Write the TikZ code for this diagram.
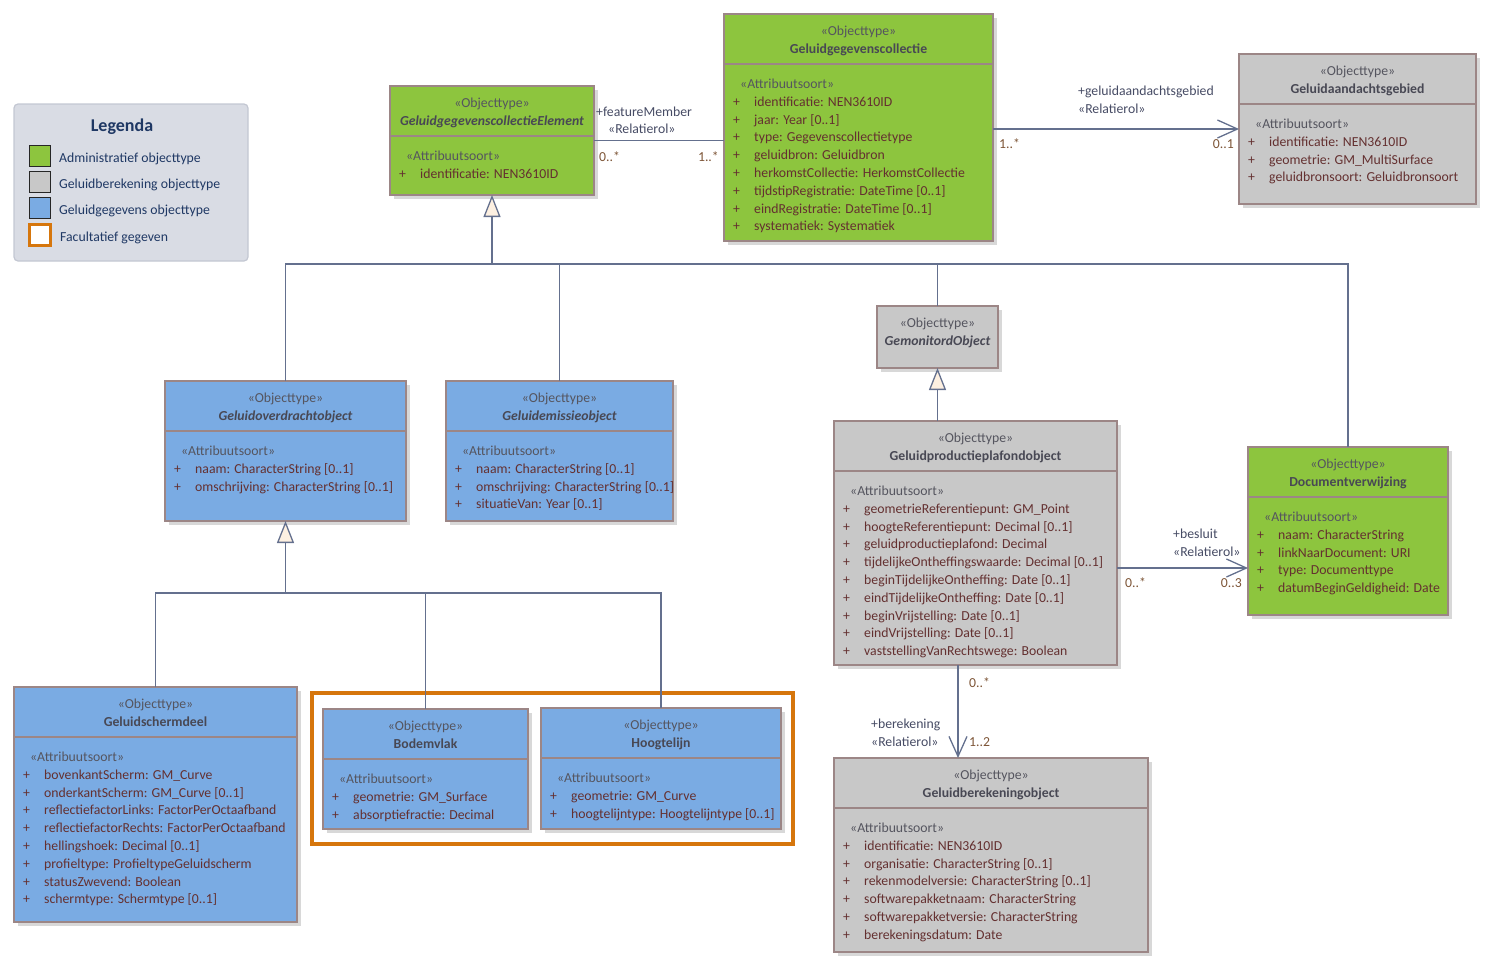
\documentclass[tikz,border=0pt]{standalone}
\usepackage{fontspec}
\setmainfont{Carlito}
\usetikzlibrary{arrows.meta,positioning,fit,calc}

\definecolor{admgreen}{RGB}{141,197,62}
\definecolor{calcgray}{RGB}{200,200,200}
\definecolor{datablue}{RGB}{122,171,227}
\definecolor{boxborder}{RGB}{156,134,134}
\definecolor{shadowc}{RGB}{216,216,216}
\definecolor{stereotext}{RGB}{85,85,95}
\definecolor{nametext}{RGB}{72,72,84}
\definecolor{attrtext}{RGB}{100,48,48}
\definecolor{roletext}{RGB}{70,75,100}
\definecolor{multtext}{RGB}{125,85,55}
\definecolor{linecol}{RGB}{100,112,142}
\definecolor{trifill}{RGB}{253,240,225}
\definecolor{optorange}{RGB}{214,118,12}
\definecolor{legendbg}{RGB}{217,220,228}
\definecolor{legendline}{RGB}{195,199,210}
\definecolor{legendtext}{RGB}{31,56,100}

% class box: #1 name, #2 fill, #3-#6 corners, #7 class name, #8 attributes, #9 extra style
\newcommand{\umlclass}[9]{%
  \fill[shadowc] (#3+4,#4+4) rectangle (#5+4,#6+4);
  \node[classbox,#9,fill=#2,fit={(#3,#4)(#5,#6)}] (#1) {};
  \draw[classbox,#9] (#3,#4+50) -- (#5,#4+50);
  \node[stereo] (#1-st) at ($(#1.north)+(0,21.5)$) {«Objecttype»};
  \node[classname] (#1-nm) at ($(#1.north)+(0,39)$) {#7};
  \node[stereo,anchor=base west] (#1-as) at (#3+16,#4+74.5) {«Attribuutsoort»};
  \foreach \txt [count=\i] in {#8} {
    \node[attr] (#1-p\i) at (#3+9,#4+74.5+17.8*\i) {+};
    \node[attr] (#1-a\i) at (#3+30,#4+74.5+17.8*\i) {\txt};
  }%
}

\begin{document}
\begin{tikzpicture}[x=1pt,y=-1pt,font=\fontsize{13.75}{17}\selectfont]
\tikzset{
  classbox/.style={draw=boxborder,line width=2.4pt,inner sep=0pt,outer sep=0pt},
  thinbox/.style={line width=1.3pt},
  stereo/.style={inner sep=0pt,anchor=base,text=stereotext},
  classname/.style={inner sep=0pt,anchor=base,text=nametext,font=\fontsize{13.75}{17}\selectfont\bfseries},
  attr/.style={inner sep=0pt,anchor=base west,text=attrtext},
  rolelabel/.style={inner sep=0pt,anchor=base west,text=roletext},
  multlabel/.style={inner sep=0pt,anchor=base west,text=multtext},
  connector/.style={draw=linecol,line width=1.3pt},
  navigable/.style={connector,-{Straight Barb[length=20pt,width=18pt]}},
  generalize/.style={connector,-{Triangle[length=22pt,width=17pt,fill=trifill]}},
  swatch/.style={draw=black!85,line width=1.3pt,minimum size=21pt,inner sep=0pt},
  legendlabel/.style={inner sep=0pt,anchor=base west,text=legendtext}
}
\useasboundingbox (0,0) rectangle (1495,967);

% legend
\node[draw=legendline,fill=legendbg,line width=1.2pt,rounded corners=4pt,inner sep=0pt,fit={(14,104)(248,261)}] (legend) {};
\node[inner sep=0pt,anchor=base,text=legendtext,font=\fontsize{18}{20}\selectfont\bfseries] (legend-title) at (122,131) {Legenda};
\node[swatch,fill=admgreen] (sw-adm) at (40,156) {};
\node[swatch,fill=calcgray] (sw-calc) at (40,182) {};
\node[swatch,fill=datablue] (sw-data) at (40,208) {};
\node[swatch,draw=optorange,line width=2.6pt,fill=white] (sw-opt) at (40,235) {};
\node[legendlabel] (lg-adm) at (59,162) {Administratief objecttype};
\node[legendlabel] (lg-calc) at (59,188) {Geluidberekening objecttype};
\node[legendlabel] (lg-data) at (59,214) {Geluidgegevens objecttype};
\node[legendlabel] (lg-opt) at (60,241) {Facultatief gegeven};

% optional group
\node[draw=optorange,line width=3.4pt,inner sep=0pt,fit={(312,693)(793,844)}] (optional) {};

% classes
\umlclass{elem}{admgreen}{390}{86}{594}{195}{\itshape GeluidgegevenscollectieElement}{identificatie: NEN3610ID}{}
\umlclass{coll}{admgreen}{724}{14}{993}{241}{Geluidgegevenscollectie}{identificatie: NEN3610ID, jaar: Year [0..1], type: Gegevenscollectietype, geluidbron: Geluidbron, herkomstCollectie: HerkomstCollectie, tijdstipRegistratie: DateTime [0..1], eindRegistratie: DateTime [0..1], systematiek: Systematiek}{}
\umlclass{aandacht}{calcgray}{1239}{54}{1476}{204}{Geluidaandachtsgebied}{identificatie: NEN3610ID, geometrie: GM\_MultiSurface, geluidbronsoort: Geluidbronsoort}{}
\umlclass{overdracht}{datablue}{165}{381}{406}{521}{\itshape Geluidoverdrachtobject}{naam: CharacterString [0..1], omschrijving: CharacterString [0..1]}{}
\umlclass{emissie}{datablue}{446}{381}{673}{521}{\itshape Geluidemissieobject}{naam: CharacterString [0..1], omschrijving: CharacterString [0..1], situatieVan: Year [0..1]}{}
\umlclass{plafond}{calcgray}{834}{421}{1117}{665}{Geluidproductieplafondobject}{geometrieReferentiepunt: GM\_Point, hoogteReferentiepunt: Decimal [0..1], geluidproductieplafond: Decimal, tijdelijkeOntheffingswaarde: Decimal [0..1], beginTijdelijkeOntheffing: Date [0..1], eindTijdelijkeOntheffing: Date [0..1], beginVrijstelling: Date [0..1], eindVrijstelling: Date [0..1], vaststellingVanRechtswege: Boolean}{}
\umlclass{docverw}{admgreen}{1248}{447}{1448}{615}{Documentverwijzing}{naam: CharacterString, linkNaarDocument: URI, type: Documenttype, datumBeginGeldigheid: Date}{}
\umlclass{scherm}{datablue}{14}{687}{297}{922}{Geluidschermdeel}{bovenkantScherm: GM\_Curve, onderkantScherm: GM\_Curve [0..1], reflectiefactorLinks: FactorPerOctaafband, reflectiefactorRechts: FactorPerOctaafband, hellingshoek: Decimal [0..1], profieltype: ProfieltypeGeluidscherm, statusZwevend: Boolean, schermtype: Schermtype [0..1]}{thinbox}
\umlclass{bodem}{datablue}{323}{709}{528}{829}{Bodemvlak}{geometrie: GM\_Surface, absorptiefractie: Decimal}{thinbox}
\umlclass{hoogte}{datablue}{541}{708}{781}{829}{Hoogtelijn}{geometrie: GM\_Curve, hoogtelijntype: Hoogtelijntype [0..1]}{thinbox}
\umlclass{berek}{calcgray}{834}{758}{1148}{952}{Geluidberekeningobject}{identificatie: NEN3610ID, organisatie: CharacterString [0..1], rekenmodelversie: CharacterString [0..1], softwarepakketnaam: CharacterString, softwarepakketversie: CharacterString, berekeningsdatum: Date}{}

% abstract class without attributes
\fill[shadowc] (881,310) rectangle (1002,372);
\node[classbox,fill=calcgray,fit={(877,306)(998,368)}] (gemon) {};
\node[stereo] (gemon-st) at ($(gemon.north)+(0,21.5)$) {«Objecttype»};
\node[classname] (gemon-nm) at ($(gemon.north)+(0,39)$) {\itshape GemonitordObject};

% generalisations
\coordinate (bus1) at (0,264);
\coordinate (bus2) at (0,593);
\draw[connector] (overdracht.north) |- (bus1 -| docverw.north) -- (docverw.north);
\draw[connector] (emissie.north) -- (emissie.north |- bus1);
\draw[connector] (gemon.north) -- (gemon.north |- bus1);
\draw[generalize] (elem.south |- bus1) -- (elem.south);
\draw[connector] (scherm.north) |- (bus2 -| hoogte.north) -- (hoogte.north);
\draw[connector] (bodem.north) -- (bodem.north |- bus2);
\draw[generalize] (overdracht.south |- bus2) -- (overdracht.south);
\draw[generalize] (plafond.north -| gemon.south) -- (gemon.south);

% associations
\draw[connector] (elem.east) -- (elem.east -| coll.west);
\node[rolelabel] (feat-role) at (596,116) {+featureMember};
\node[rolelabel] (feat-st) at (608,133) {«Relatierol»};
\node[multlabel] (feat-m1) at (599,161) {0..*};
\node[multlabel,anchor=base east] (feat-m2) at (719,161) {1..*};

\draw[navigable] (aandacht.west -| coll.east) -- (aandacht.west);
\node[rolelabel] (aand-role) at (1078,95) {+geluidaandachtsgebied};
\node[rolelabel] (aand-st) at (1078,113) {«Relatierol»};
\node[multlabel] (aand-m1) at (999,148) {1..*};
\node[multlabel,anchor=base east] (aand-m2) at (1234,148) {0..1};

\draw[navigable] ([yshift=-25pt]plafond.east) -- ([yshift=-25pt]plafond.east -| docverw.west);
\node[rolelabel] (bes-role) at (1173,538) {+besluit};
\node[rolelabel] (bes-st) at (1173,556) {«Relatierol»};
\node[multlabel] (bes-m1) at (1125,587) {0..*};
\node[multlabel,anchor=base east] (bes-m2) at (1242,587) {0..3};

\draw[navigable] ([xshift=-17.5pt]plafond.south) -- ([xshift=-17.5pt]plafond.south |- berek.north);
\node[multlabel] (ber-m1) at (969,687) {0..*};
\node[rolelabel] (ber-role) at (871,728) {+berekening};
\node[rolelabel] (ber-st) at (871,746) {«Relatierol»};
\node[multlabel] (ber-m2) at (969,746) {1..2};
\end{tikzpicture}
\end{document}
